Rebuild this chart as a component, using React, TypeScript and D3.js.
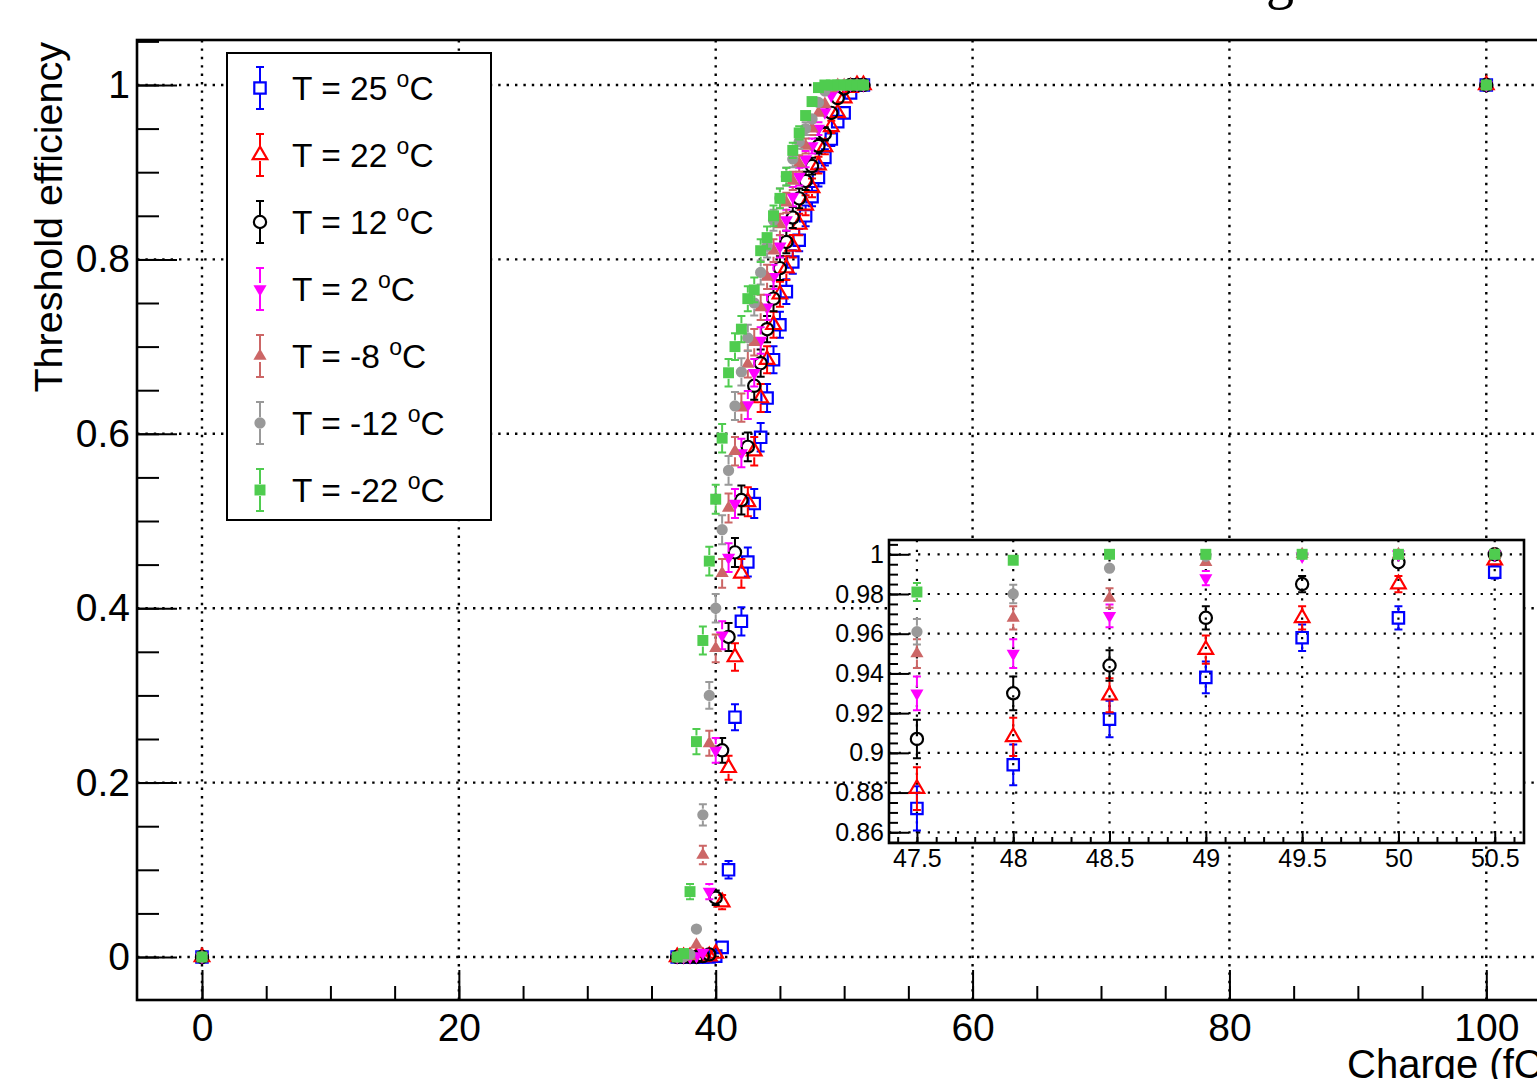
import React, { useEffect, useRef } from "react";
import * as d3 from "d3";

// charge scan points (fC), the same for every temperature
const charge = [
    37, 37.5, 38, 38.5, 39, 39.5, 40, 40.5, 41, 41.5, 42, 42.5, 43, 43.5, 44,
    44.5, 45, 45.5, 46, 46.5, 47, 47.5, 48, 48.5, 49, 49.5, 50, 50.5, 51, 51.5,
];
// the two extra points far from the turn-on
const endCharge = [0, 100];
const endEff = [0, 1];

const eff25 = [
    0, 0, 0, 0, 0, 0, 0.001, 0.011, 0.1, 0.275, 0.385, 0.453, 0.52, 0.596, 0.641,
    0.685, 0.725, 0.763, 0.797, 0.822, 0.85, 0.872, 0.894, 0.917, 0.938, 0.958, 0.968, 0.991, 1, 1,
];
const eff22 = [
    0, 0, 0, 0, 0, 0.001, 0.004, 0.063, 0.217, 0.344, 0.44, 0.522, 0.58, 0.641, 0.685,
    0.725, 0.76, 0.79, 0.815, 0.84, 0.862, 0.882, 0.908, 0.929, 0.952, 0.968, 0.985, 0.997, 1, 1,
];
const eff12 = [
    0, 0, 0, 0, 0.001, 0.003, 0.068, 0.237, 0.367, 0.464, 0.524, 0.585, 0.655, 0.681, 0.72,
    0.755, 0.79, 0.82, 0.848, 0.87, 0.89, 0.907, 0.93, 0.944, 0.968, 0.985, 0.996, 1, 1, 1,
];
const eff2 = [
    0, 0, 0, 0.001, 0.005, 0.075, 0.237, 0.369, 0.458, 0.52, 0.578, 0.633, 0.67, 0.707, 0.745,
    0.78, 0.815, 0.845, 0.872, 0.895, 0.915, 0.93, 0.95, 0.969, 0.988, 0.999, 1, 1, 1, 1,
];
const effM8 = [
    0, 0, 0.001, 0.014, 0.117, 0.245, 0.354, 0.44, 0.515, 0.58, 0.63, 0.68, 0.705, 0.745, 0.78,
    0.81, 0.84, 0.865, 0.89, 0.91, 0.93, 0.95, 0.968, 0.978, 0.996, 1, 1, 1, 1, 1,
];
const effM12 = [
    0, 0, 0.003, 0.032, 0.163, 0.3, 0.4, 0.49, 0.558, 0.632, 0.671, 0.71, 0.75, 0.785, 0.815,
    0.845, 0.87, 0.895, 0.915, 0.935, 0.95, 0.961, 0.98, 0.993, 0.999, 1, 1, 1, 1, 1,
];
const effM22 = [
    0, 0.004, 0.075, 0.247, 0.363, 0.454, 0.525, 0.595, 0.67, 0.7, 0.72, 0.755, 0.765, 0.81, 0.825,
    0.85, 0.87, 0.895, 0.925, 0.945, 0.965, 0.981, 0.997, 1, 1, 1, 1, 1, 1, 1,
];

const temps = ["25", "22", "12", "2", "-8", "-12", "-22"];
const seriesEff = [eff25, eff22, eff12, eff2, effM8, effM12, effM22];
const colors = ["#0000ff", "#ff0000", "#000000", "#ff00ff", "#cc6666", "#999999", "#4fcc4f"];
const shapes = ["openSquare", "openTriUp", "openCircle", "fullTriDown", "fullTriUp", "fullCircle", "fullSquare"];
// events per scan point, used for the binomial error bars
const nEvents = 900;

const mainXTicks = [0, 20, 40, 60, 80, 100];
const mainYTicks = [0, 0.2, 0.4, 0.6, 0.8, 1];
const insetXTicks = [47.5, 48, 48.5, 49, 49.5, 50, 50.5];
const insetYTicks = [0.86, 0.88, 0.9, 0.92, 0.94, 0.96, 0.98, 1];

const FONT = "'Liberation Sans', Arial, Helvetica, sans-serif";

const symbolType = {
    openSquare: d3.symbolSquare,
    fullSquare: d3.symbolSquare,
    openTriUp: d3.symbolTriangle,
    fullTriUp: d3.symbolTriangle,
    fullTriDown: d3.symbolTriangle,
    openCircle: d3.symbolCircle,
    fullCircle: d3.symbolCircle,
};
const symbolSize = {
    openSquare: 130,
    fullSquare: 120,
    openTriUp: 92,
    fullTriUp: 75,
    fullTriDown: 75,
    openCircle: 118,
    fullCircle: 100,
};

function drawPoint(g, cx, cy, errPx, color, shape) {
    const gap = 6;
    if (errPx > gap) {
        g.append("path")
            .attr(
                "d",
                `M${cx},${cy - gap}V${cy - errPx}M${cx - 4},${cy - errPx}H${cx + 4}` +
                    `M${cx},${cy + gap}V${cy + errPx}M${cx - 4},${cy + errPx}H${cx + 4}`
            )
            .attr("stroke", color)
            .attr("stroke-width", 2)
            .attr("fill", "none");
    }
    const filled = shape.startsWith("full");
    g.append("path")
        .attr("d", d3.symbol().type(symbolType[shape]).size(symbolSize[shape])())
        .attr("transform", `translate(${cx},${cy})${shape === "fullTriDown" ? " rotate(180)" : ""}`)
        .attr("fill", filled ? color : "none")
        .attr("stroke", filled ? "none" : color)
        .attr("stroke-width", 2.2);
}

function pointsOf(eff) {
    const pts = charge.map((c, i) => ({ x: c, y: eff[i] }));
    endCharge.forEach((c, i) => pts.push({ x: c, y: endEff[i] }));
    return pts.map((p) => ({ ...p, err: Math.sqrt((p.y * (1 - p.y)) / nEvents) }));
}

function styleAxis(g, size) {
    g.select(".domain").remove();
    g.selectAll("line").attr("stroke", "#000").attr("stroke-width", 2);
    g.selectAll("text").attr("fill", "#000").style("font-family", FONT).style("font-size", `${size}px`);
}

const App = () => {
    const svgRef = useRef();

    useEffect(() => {
        const svg = d3.select(svgRef.current);
        svg.selectAll("*").remove();

        const frame = { left: 137, top: 40, right: 1550, bottom: 1000 };
        const x = d3.scaleLinear().domain([-5.06, 104.96]).range([frame.left, frame.right]);
        const y = d3.scaleLinear().domain([-0.0493, 1.0516]).range([frame.bottom, frame.top]);

        svg.append("clipPath")
            .attr("id", "mainClip")
            .append("rect")
            .attr("x", frame.left)
            .attr("y", frame.top)
            .attr("width", frame.right - frame.left)
            .attr("height", frame.bottom - frame.top);

        // grid
        const grid = svg.append("g").attr("stroke", "#000").attr("stroke-width", 2.4).attr("stroke-dasharray", "2.4 6");
        mainXTicks.forEach((t) =>
            grid.append("line").attr("x1", x(t)).attr("x2", x(t)).attr("y1", frame.top).attr("y2", frame.bottom)
        );
        mainYTicks.forEach((t) =>
            grid.append("line").attr("x1", frame.left).attr("x2", frame.right).attr("y1", y(t)).attr("y2", y(t))
        );

        // axes (ticks inside the frame, like ROOT)
        const gxMinor = svg.append("g").attr("transform", `translate(0,${frame.bottom})`);
        gxMinor.call(d3.axisBottom(x).tickValues(d3.range(0, 105, 5)).tickSize(-14).tickSizeOuter(0).tickFormat(() => ""));
        styleAxis(gxMinor, 39);
        const gx = svg.append("g").attr("transform", `translate(0,${frame.bottom})`);
        gx.call(d3.axisBottom(x).tickValues(mainXTicks).tickSize(-30).tickSizeOuter(0).tickPadding(13).tickFormat(d3.format("~g")));
        styleAxis(gx, 39);

        const gyMinor = svg.append("g").attr("transform", `translate(${frame.left},0)`);
        gyMinor.call(d3.axisLeft(y).tickValues(d3.range(0, 1.06, 0.05)).tickSize(-22).tickSizeOuter(0).tickFormat(() => ""));
        styleAxis(gyMinor, 39);
        const gy = svg.append("g").attr("transform", `translate(${frame.left},0)`);
        gy.call(d3.axisLeft(y).tickValues(mainYTicks).tickSize(-40).tickSizeOuter(0).tickPadding(7).tickFormat(d3.format("~g")));
        styleAxis(gy, 39);

        svg.append("rect")
            .attr("x", frame.left)
            .attr("y", frame.top)
            .attr("width", frame.right - frame.left)
            .attr("height", frame.bottom - frame.top)
            .attr("fill", "none")
            .attr("stroke", "#000")
            .attr("stroke-width", 2.6);

        // data
        const plot = svg.append("g").attr("clip-path", "url(#mainClip)");
        seriesEff.forEach((eff, si) => {
            pointsOf(eff).forEach((p) => {
                const cy = y(p.y);
                drawPoint(plot, x(p.x), cy, Math.abs(y(p.y + p.err) - cy), colors[si], shapes[si]);
            });
        });

        // axis titles
        svg.append("text")
            .attr("transform", "translate(62,42) rotate(-90)")
            .attr("text-anchor", "end")
            .style("font-family", FONT)
            .style("font-size", "39.5px")
            .text("Threshold efficiency");
        svg.append("text")
            .attr("x", 1347)
            .attr("y", 1078)
            .style("font-family", FONT)
            .style("font-size", "40px")
            .text("Charge (fC)");
        svg.append("text")
            .attr("x", 1266)
            .attr("y", -2)
            .style("font-family", "'Liberation Serif', 'Times New Roman', serif")
            .style("font-size", "56px")
            .text("g");

        // legend
        const legend = svg.append("g");
        legend.append("rect")
            .attr("x", 227)
            .attr("y", 53)
            .attr("width", 264)
            .attr("height", 467)
            .attr("fill", "#fff")
            .attr("stroke", "#000")
            .attr("stroke-width", 2);
        temps.forEach((t, i) => {
            const cy = 88 + i * 67;
            drawPoint(legend, 260, cy, 21, colors[i], shapes[i]);
            const txt = legend.append("text")
                .attr("x", 292)
                .attr("y", cy + 12)
                .style("font-family", FONT)
                .style("font-size", "33.5px")
                .style("white-space", "pre");
            txt.append("tspan").text(`T = ${t} `);
            txt.append("tspan").attr("dy", -13).style("font-size", "23px").text("o");
            txt.append("tspan").attr("dy", 13).text("C");
        });

        // inset zoom on the plateau
        const inset = { left: 889, top: 540, right: 1524, bottom: 843 };
        const xi = d3.scaleLinear().domain([47.355, 50.652]).range([inset.left, inset.right]);
        const yi = d3.scaleLinear().domain([0.8546, 1.0072]).range([inset.bottom, inset.top]);
        const ig = svg.append("g");
        ig.append("clipPath")
            .attr("id", "insetClip")
            .append("rect")
            .attr("x", inset.left)
            .attr("y", inset.top)
            .attr("width", inset.right - inset.left)
            .attr("height", inset.bottom - inset.top);
        ig.append("rect")
            .attr("x", inset.left)
            .attr("y", inset.top)
            .attr("width", inset.right - inset.left)
            .attr("height", inset.bottom - inset.top)
            .attr("fill", "#fff");
        const igrid = ig.append("g").attr("stroke", "#000").attr("stroke-width", 2.2).attr("stroke-dasharray", "2.2 7.5");
        insetXTicks.forEach((t) =>
            igrid.append("line").attr("x1", xi(t)).attr("x2", xi(t)).attr("y1", inset.top).attr("y2", inset.bottom)
        );
        insetYTicks.forEach((t) =>
            igrid.append("line").attr("x1", inset.left).attr("x2", inset.right).attr("y1", yi(t)).attr("y2", yi(t))
        );

        const ixMinor = ig.append("g").attr("transform", `translate(0,${inset.bottom})`);
        ixMinor.call(d3.axisBottom(xi).tickValues(d3.range(47.4, 50.65, 0.1)).tickSize(-6).tickSizeOuter(0).tickFormat(() => ""));
        styleAxis(ixMinor, 25);
        const ix = ig.append("g").attr("transform", `translate(0,${inset.bottom})`);
        ix.call(d3.axisBottom(xi).tickValues(insetXTicks).tickSize(-12).tickSizeOuter(0).tickPadding(6).tickFormat(d3.format("~g")));
        styleAxis(ix, 25);
        const iyMinor = ig.append("g").attr("transform", `translate(${inset.left},0)`);
        iyMinor.call(d3.axisLeft(yi).tickValues(d3.range(0.855, 1.006, 0.005)).tickSize(-9).tickSizeOuter(0).tickFormat(() => ""));
        styleAxis(iyMinor, 25);
        const iy = ig.append("g").attr("transform", `translate(${inset.left},0)`);
        iy.call(d3.axisLeft(yi).tickValues(insetYTicks).tickSize(-20).tickSizeOuter(0).tickPadding(5).tickFormat(d3.format("~g")));
        styleAxis(iy, 25);

        const iplot = ig.append("g").attr("clip-path", "url(#insetClip)");
        seriesEff.forEach((eff, si) => {
            pointsOf(eff)
                .filter((p) => p.x >= 47.4 && p.x <= 50.6)
                .forEach((p) => {
                    const cy = yi(p.y);
                    drawPoint(iplot, xi(p.x), cy, Math.abs(yi(p.y + p.err) - cy), colors[si], shapes[si]);
                });
        });

        ig.append("rect")
            .attr("x", inset.left)
            .attr("y", inset.top)
            .attr("width", inset.right - inset.left)
            .attr("height", inset.bottom - inset.top)
            .attr("fill", "none")
            .attr("stroke", "#000")
            .attr("stroke-width", 2.6);
    }, []);

    return (
        <svg
            ref={svgRef}
            width={1537}
            height={1079}
            style={{ position: "absolute", left: 0, top: 0, background: "#fff" }}
        ></svg>
    );
};

export default App;
